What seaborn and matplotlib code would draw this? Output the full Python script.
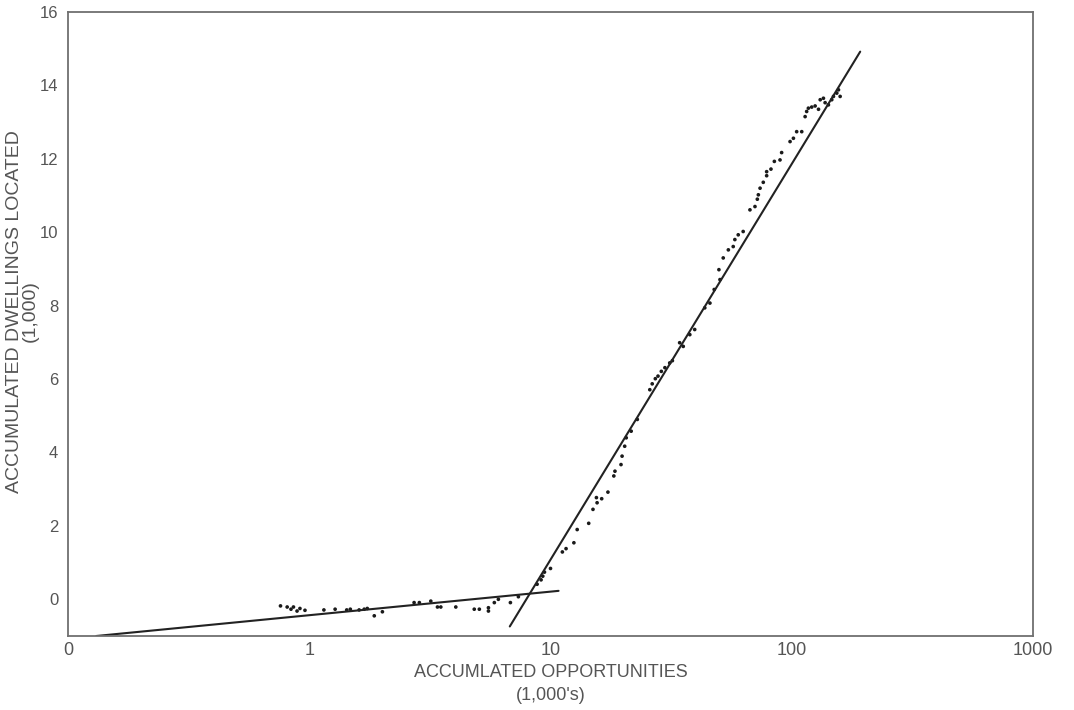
import matplotlib
matplotlib.use("Agg")
import matplotlib.pyplot as plt
import matplotlib.ticker as mticker
import numpy as np
import pandas as pd
import seaborn as sns

# Accumulated opportunities (thousands) and accumulated dwellings located (thousands)
opportunities = [
    0.76, 0.81, 0.84, 0.86, 0.89, 0.915, 0.96, 1.15, 1.28, 1.43,
    1.48, 1.61, 1.69, 1.74, 1.86, 2.01, 2.72, 2.86, 3.19, 3.40,
    3.51, 4.05, 4.83, 5.07, 5.53, 5.53, 5.85, 6.08, 6.82, 7.36,
    8.80, 9.14, 9.29, 9.44, 10.0, 11.2, 11.6, 12.5, 12.9, 14.4,
    15.0, 15.5, 15.6, 16.3, 17.3, 18.3, 18.5, 19.6, 19.8, 20.3,
    20.6, 21.6, 22.9, 25.8, 26.4, 27.2, 27.9, 28.8, 29.8, 31.2,
    32.0, 34.3, 35.5, 37.8, 39.6, 43.6, 45.8, 47.7, 50.4, 49.9,
    52.0, 54.6, 57.2, 58.1, 60.0, 62.9, 67.1, 70.4, 72.0, 72.7,
    73.9, 76.2, 78.7, 78.7, 82.0, 84.7, 89.4, 90.8, 98.4, 101.6,
    104.8, 110.0, 113.6, 115.3, 117.2, 121.0, 125.0, 129.1, 131.2, 135.3,
    137.5, 141.9, 146.5, 148.9, 153.7, 156.2, 158.7,
]
dwellings = [
    -0.18, -0.21, -0.27, -0.21, -0.32, -0.25, -0.30, -0.29, -0.27, -0.29,
    -0.27, -0.29, -0.27, -0.25, -0.45, -0.34, -0.09, -0.09, -0.05, -0.21,
    -0.21, -0.21, -0.27, -0.27, -0.23, -0.32, -0.09, 0.00, -0.09, 0.07,
    0.41, 0.53, 0.63, 0.74, 0.84, 1.29, 1.38, 1.54, 1.90, 2.07,
    2.45, 2.77, 2.63, 2.74, 2.92, 3.36, 3.49, 3.67, 3.90, 4.17,
    4.40, 4.58, 4.90, 5.71, 5.87, 6.01, 6.08, 6.21, 6.31, 6.44,
    6.50, 6.99, 6.89, 7.21, 7.35, 7.94, 8.07, 8.44, 8.71, 8.98,
    9.30, 9.52, 9.61, 9.80, 9.93, 10.02, 10.61, 10.70, 10.90, 11.02,
    11.20, 11.36, 11.54, 11.65, 11.72, 11.93, 11.97, 12.17, 12.47, 12.56,
    12.74, 12.74, 13.15, 13.29, 13.38, 13.41, 13.44, 13.35, 13.61, 13.65,
    13.53, 13.47, 13.61, 13.70, 13.79, 13.88, 13.70,
]

# Fitted straight lines on the semi-log scale (end points)
low_fit_x = [0.131, 10.8]
low_fit_y = [-1.0, 0.23]
high_fit_x = [6.78, 192.2]
high_fit_y = [-0.74, 14.92]

x_ticks = [0.1, 1, 10, 100, 1000]
x_tick_labels = ["0", "1", "10", "100", "1000"]
y_ticks = [0, 2, 4, 6, 8, 10, 12, 14, 16]

sns.set_style("white")
plt.rcParams["font.family"] = ["Liberation Sans", "DejaVu Sans"]

text_color = "#555555"
spine_color = "#707070"

fig = plt.figure(figsize=(10.74, 7.10), dpi=100)
ax = fig.add_axes([68 / 1074, 1 - 636 / 710, (1033 - 68) / 1074, (636 - 12) / 710])

points = pd.DataFrame({"opportunities": opportunities, "dwellings": dwellings})
sns.scatterplot(data=points, x="opportunities", y="dwellings", ax=ax,
                s=7, color="#1a1a1a", edgecolor="none", linewidth=0)

low = pd.DataFrame({"x": low_fit_x, "y": low_fit_y})
high = pd.DataFrame({"x": high_fit_x, "y": high_fit_y})
sns.lineplot(data=low, x="x", y="y", ax=ax, color="#222222", linewidth=1.5)
sns.lineplot(data=high, x="x", y="y", ax=ax, color="#222222", linewidth=1.5)

ax.set_xscale("log")
ax.set_xlim(0.1, 1000)
ax.set_ylim(-1, 16)
ax.xaxis.set_major_locator(mticker.FixedLocator(x_ticks))
ax.xaxis.set_major_formatter(mticker.FixedFormatter(x_tick_labels))
ax.xaxis.set_minor_locator(mticker.NullLocator())
ax.set_yticks(y_ticks)
ax.set_yticklabels([str(v) for v in y_ticks])

ax.tick_params(axis="x", direction="in", length=13, width=1.3, color=spine_color,
               labelsize=13, labelcolor=text_color, pad=4)
ax.tick_params(axis="y", direction="in", length=10, width=1.3, color=spine_color,
               labelsize=12, labelcolor=text_color, pad=7)

for side in ["left", "right", "top", "bottom"]:
    ax.spines[side].set_visible(True)
    ax.spines[side].set_color(spine_color)
    ax.spines[side].set_linewidth(1.3)

ax.set_xlabel("ACCUMLATED OPPORTUNITIES\n(1,000's)", fontsize=13,
              color=text_color, linespacing=1.45)
ax.xaxis.set_label_coords(0.5, -(664 - 636) / 624)

ax.set_ylabel("ACCUMULATED DWELLINGS LOCATED\n(1,000)", fontsize=14,
              color=text_color, linespacing=0.92)
ax.yaxis.set_label_coords(-(68 - 39) / 965, 0.52)

fig.savefig("out.png", dpi=100, facecolor="white")
